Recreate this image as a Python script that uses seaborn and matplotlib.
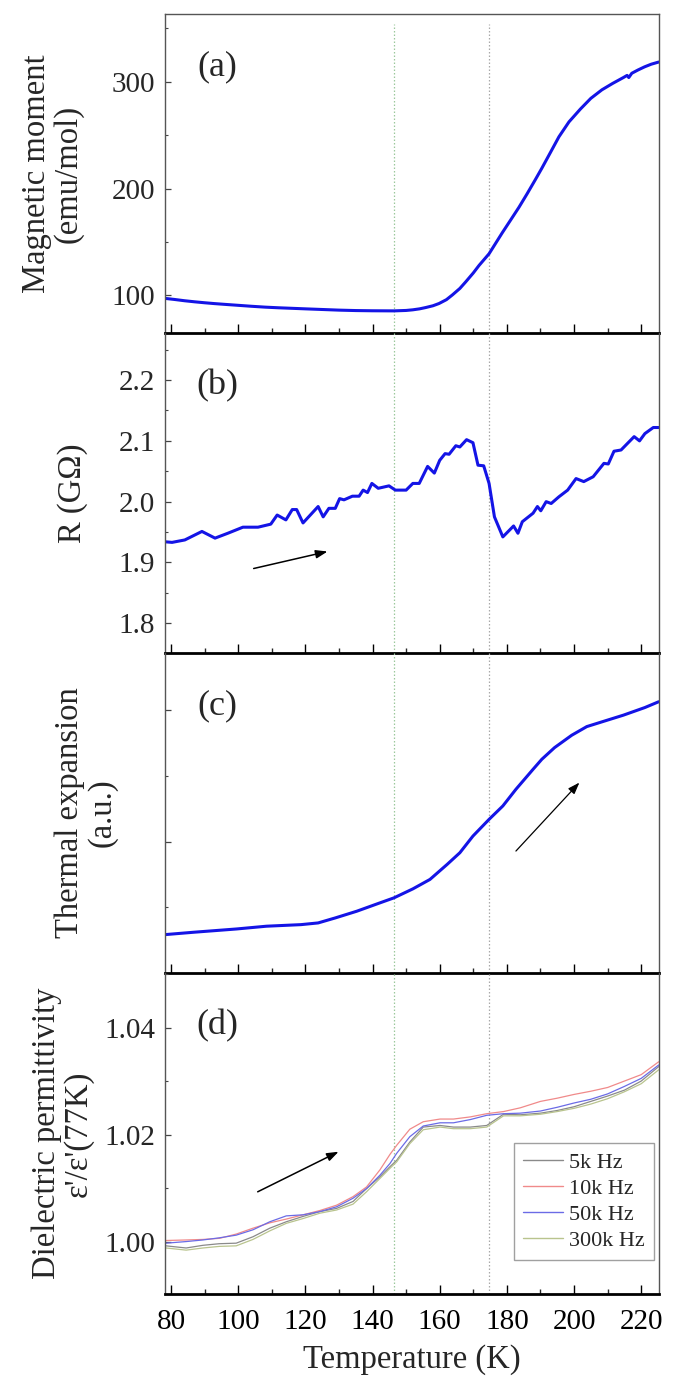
import numpy as np
import pandas as pd
import matplotlib
matplotlib.use("Agg")
import matplotlib.pyplot as plt
from matplotlib.ticker import MultipleLocator, FixedLocator, NullFormatter
import seaborn as sns

# ---------------- data ----------------
T_a = [78.2, 81, 84, 87, 90, 93, 96, 100, 104, 108, 112, 116, 120, 125, 130, 135, 140, 146.4,
       150, 152, 154, 155.8, 158, 159.8, 162, 163.8, 166, 167.7, 170, 171.7, 173.2, 174.7, 176.6,
       178.6, 181, 183.6, 186, 188.5, 190.4, 193, 195.5, 198.5, 201.9, 205, 208.3, 211.5, 214.7,
       215.8, 216.3, 217.2, 219, 221, 223, 225.2]
M_a = [97.2, 96.2, 95.0, 94.0, 93.1, 92.3, 91.6, 90.7, 89.8, 89.0, 88.4, 87.9, 87.4, 86.8, 86.2,
       85.8, 85.6, 85.5, 85.9, 86.5, 87.4, 88.6, 90.3, 92.4, 96.0, 100.5, 106.5, 112.5, 121.0,
       128.0, 133.5, 139.0, 148.5, 158.5, 170.0, 182.5, 195.0, 208.5, 219.0, 234.0, 248.5, 262.5,
       274.5, 284.5, 292.5, 298.5, 304.0, 306.0, 304.0, 308.0, 311.0, 314.0, 316.5, 318.5]

T_b = [78.2, 80.3, 84.1, 89.2, 93.1, 96.9, 101.4, 105.9, 109.7, 111.6, 114.2, 116.1, 117.4, 119.3,
       123.8, 125.3, 127.0, 128.9, 130.2, 131.5, 134.0, 136.0, 137.2, 138.5, 139.8, 141.7, 144.9,
       146.8, 150.0, 152.0, 153.9, 156.4, 158.4, 160.0, 161.6, 162.8, 164.8, 166.0, 168.0, 169.9,
       171.4, 173.1, 174.7, 176.3, 178.8, 182.0, 183.3, 184.6, 187.8, 189.1, 190.1, 191.7, 193.2,
       195.5, 198.1, 200.6, 202.9, 205.7, 208.9, 210.2, 211.9, 214.0, 217.9, 219.5, 221.1, 223.6,
       225.2]
R_b = [1.934, 1.933, 1.937, 1.951, 1.940, 1.948, 1.958, 1.958, 1.963, 1.978, 1.970, 1.987, 1.987,
       1.965, 1.992, 1.975, 1.989, 1.989, 2.005, 2.003, 2.009, 2.009, 2.019, 2.015, 2.030, 2.022,
       2.026, 2.019, 2.019, 2.030, 2.030, 2.058, 2.047, 2.068, 2.079, 2.078, 2.092, 2.090, 2.102,
       2.097, 2.060, 2.059, 2.030, 1.975, 1.942, 1.960, 1.948, 1.967, 1.981, 1.992, 1.985, 2.000,
       1.997, 2.008, 2.019, 2.038, 2.033, 2.041, 2.063, 2.062, 2.083, 2.085, 2.107, 2.100, 2.112,
       2.122, 2.122]

T_c = [78.2, 86.7, 99.5, 108.4, 118.7, 123.8, 128.9, 135.3, 141.7, 146.4, 152.0, 157.1, 162.2,
       166.0, 169.9, 174.7, 178.8, 182.7, 187.8, 190.4, 194.2, 199.3, 203.8, 208.3, 214.7, 221.1,
       225.2]
L_c = [0.292, 0.310, 0.335, 0.356, 0.368, 0.381, 0.419, 0.470, 0.529, 0.572, 0.640, 0.712, 0.826,
       0.915, 1.042, 1.169, 1.271, 1.398, 1.550, 1.626, 1.715, 1.809, 1.875, 1.911, 1.962, 2.020,
       2.064]

T_d = [78.5, 84.5, 89.5, 94.4, 99.4, 104.4, 109.4, 114.3, 119.3, 124.3, 129.3, 134.2, 138.2, 142.2,
       145.2, 147.2, 151.1, 155.1, 160.1, 164.1, 169.1, 174.0, 179.0, 184.0, 190.0, 195.0, 200.0,
       205.0, 210.0, 215.0, 220.0, 225.2]
eps_5k = [0.9992, 0.9988, 0.9993, 0.9996, 0.9997, 1.0009, 1.0025, 1.0037, 1.0047, 1.0056, 1.0062,
          1.0075, 1.0099, 1.0121, 1.0140, 1.0152, 1.0186, 1.0214, 1.0217, 1.0214, 1.0214, 1.0217,
          1.0238, 1.0237, 1.0240, 1.0245, 1.0252, 1.0262, 1.0272, 1.0283, 1.0300, 1.0327]
eps_10k = [1.0002, 1.0003, 1.0004, 1.0006, 1.0014, 1.0025, 1.0035, 1.0042, 1.0050, 1.0058, 1.0068,
           1.0084, 1.0102, 1.0134, 1.0163, 1.0180, 1.0210, 1.0224, 1.0229, 1.0229, 1.0233, 1.0239,
           1.0243, 1.0250, 1.0262, 1.0268, 1.0275, 1.0281, 1.0288, 1.0300, 1.0312, 1.0336]
eps_50k = [0.9997, 1.0000, 1.0003, 1.0007, 1.0012, 1.0022, 1.0037, 1.0048, 1.0050, 1.0056, 1.0065,
           1.0081, 1.0099, 1.0124, 1.0146, 1.0165, 1.0196, 1.0216, 1.0222, 1.0222, 1.0228, 1.0236,
           1.0239, 1.0240, 1.0244, 1.0251, 1.0259, 1.0266, 1.0276, 1.0290, 1.0305, 1.0330]
eps_300k = [0.9988, 0.9984, 0.9988, 0.9991, 0.9992, 1.0004, 1.0020, 1.0034, 1.0043, 1.0053, 1.0059,
            1.0070, 1.0093, 1.0118, 1.0137, 1.0149, 1.0183, 1.0209, 1.0214, 1.0211, 1.0211, 1.0214,
            1.0235, 1.0235, 1.0238, 1.0243, 1.0249, 1.0257, 1.0267, 1.0280, 1.0295, 1.0321]
freq_labels = ["5k Hz", "10k Hz", "50k Hz", "300k Hz"]
freq_colors = ["#8a8a8a", "#f08a8a", "#6b6be6", "#b9c48e"]

T_marks = [146.4, 174.7]
mark_colors = ["#9cc89c", "#a9a9a9"]

panel_tags = ["(a)", "(b)", "(c)", "(d)"]
ylabels = ["Magnetic moment\n(emu/mol)", "R (GΩ)", "Thermal expansion\n(a.u.)",
           "Dielectric permittivity\nε'/ε'(77K)"]
ylabel_x = [-0.227, -0.188, -0.16, -0.208]

# ---------------- style ----------------
sns.set_style("ticks")
plt.rcParams["font.family"] = ["Liberation Serif", "DejaVu Serif"]
plt.rcParams["mathtext.fontset"] = "stix"

fig = plt.figure(figsize=(6.75, 13.79), dpi=100)
L, W = 0.24444, 0.73185
rects = [(0.7583, 0.23155), (0.52647, 0.23183), (0.29442, 0.23205), (0.06164, 0.23278)]
axes = [fig.add_axes([L, b, W, h]) for b, h in rects]

blue = "#1414e6"
sns.lineplot(x=T_a, y=M_a, ax=axes[0], color=blue, lw=2.2, estimator=None, sort=False)
sns.lineplot(x=T_b, y=R_b, ax=axes[1], color=blue, lw=2.2, estimator=None, sort=False)
sns.lineplot(x=T_c, y=L_c, ax=axes[2], color=blue, lw=2.2, estimator=None, sort=False)

df_d = pd.DataFrame({
    "T": T_d * 4,
    "eps": eps_5k + eps_10k + eps_50k + eps_300k,
    "f": sum([[lab] * len(T_d) for lab in freq_labels], []),
})
sns.lineplot(data=df_d, x="T", y="eps", hue="f", hue_order=freq_labels,
             palette=dict(zip(freq_labels, freq_colors)), lw=0.9, ax=axes[3],
             estimator=None, sort=False)

ylims = [(64.5, 363.5), (1.751, 2.277), (0.0, 2.435), (0.9902, 1.0502)]
for i, ax in enumerate(axes):
    ax.set_xlim(78.2, 225.3)
    ax.set_ylim(*ylims[i])
    ax.set_xlabel("")
    ax.set_ylabel(ylabels[i], fontsize=23.5, linespacing=1.05)
    ax.yaxis.label.set_va("center")
    ax.yaxis.set_label_coords(ylabel_x[i], 0.5)
    ax.xaxis.set_major_locator(MultipleLocator(20))
    ax.xaxis.set_minor_locator(MultipleLocator(10))
    ax.tick_params(axis="x", which="major", direction="in", length=6.7, width=1.0,
                   top=False, labelsize=21, pad=11, colors="black")
    ax.tick_params(axis="x", which="minor", direction="in", length=3.8, width=1.0, top=False)
    ax.tick_params(axis="y", which="major", direction="in", length=4, width=0.9,
                   right=False, labelsize=21, pad=7, color="#444444")
    ax.tick_params(axis="y", which="minor", direction="in", length=2.5, width=0.8,
                   right=False, color="#444444")
    for s in ["left", "right", "top"]:
        ax.spines[s].set_color("#555555")
        ax.spines[s].set_linewidth(1.0)
    ax.spines["bottom"].set_color("black")
    ax.spines["bottom"].set_linewidth(2.0)
    if i > 0:
        ax.spines["top"].set_visible(False)
    if i < 3:
        ax.tick_params(axis="x", labelbottom=False)
    ax.patch.set_alpha(0)
    ax.text(0.106, 0.835, panel_tags[i], transform=ax.transAxes, fontsize=26,
            ha="center", va="center")
    top = 0.97 if i == 0 else 1.0
    for xm, cm in zip(T_marks, mark_colors):
        ax.axvline(xm, ymin=0, ymax=top, color=cm, lw=0.9, ls=(0, (1.2, 1.6)), zorder=1)

axes[0].yaxis.set_major_locator(MultipleLocator(100))
axes[0].yaxis.set_minor_locator(MultipleLocator(50))
axes[1].yaxis.set_major_locator(MultipleLocator(0.1))
axes[1].yaxis.set_minor_locator(MultipleLocator(0.05))
axes[2].yaxis.set_major_locator(FixedLocator([1.0, 2.0]))
axes[2].yaxis.set_minor_locator(FixedLocator([0.5, 1.5]))
axes[2].yaxis.set_major_formatter(NullFormatter())
axes[3].yaxis.set_major_locator(MultipleLocator(0.02))
axes[3].yaxis.set_minor_locator(MultipleLocator(0.01))
axes[1].yaxis.set_major_formatter(plt.FuncFormatter(lambda v, p: f"{v:.1f}"))
axes[3].yaxis.set_major_formatter(plt.FuncFormatter(lambda v, p: f"{v:.2f}"))

axes[3].set_xlabel("Temperature (K)", fontsize=23.5)
axes[3].xaxis.label.set_va("center")
axes[3].xaxis.set_label_coords(0.5, -0.2056)

# arrows
arrow_kw = dict(arrowstyle="-|>,head_length=0.7,head_width=0.25", color="black", lw=1.1,
                shrinkA=0, shrinkB=0)
axes[1].annotate("", xy=(126.6, 1.918), xytext=(104.6, 1.890), arrowprops=arrow_kw)
axes[2].annotate("", xy=(201.6, 1.449), xytext=(182.7, 0.928),
                 arrowprops=dict(arrow_kw, lw=0.9))
axes[3].annotate("", xy=(129.9, 1.0168), xytext=(105.8, 1.0093), arrowprops=arrow_kw)

leg = axes[3].legend(loc="lower right", bbox_to_anchor=(0.99, 0.106), fontsize=16,
                     frameon=True, fancybox=False, edgecolor="#888888",
                     handlelength=1.8, handletextpad=0.3, labelspacing=0.25,
                     borderpad=0.4, borderaxespad=0)
leg.get_frame().set_linewidth(1.0)
for line in leg.get_lines():
    line.set_linewidth(1.0)

fig.savefig("out.png", dpi=100, facecolor="white")
